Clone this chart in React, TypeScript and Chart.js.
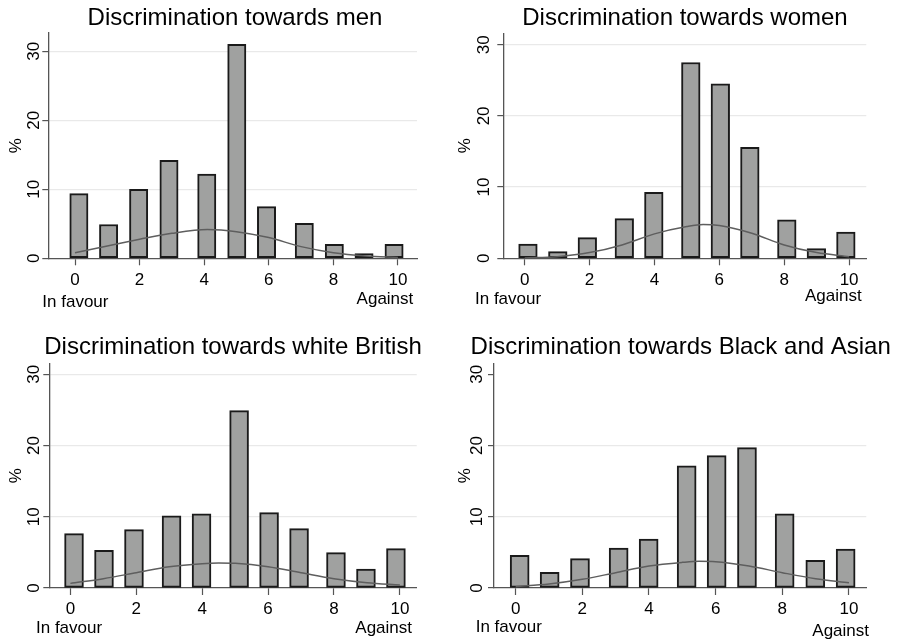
import React, { useEffect, useRef } from "react";
import { Chart, registerables } from "chart.js";

Chart.register(...registerables);

// ---------- data ----------
const scoreTicks = [0, 2, 4, 6, 8, 10];
const pctTicks = [0, 10, 20, 30];
const lowLabel = "In favour";
const highLabel = "Against";
const yTitle = "%";

const menTitle = "Discrimination towards men";
const menBinX = [0.12, 1.04, 1.97, 2.91, 4.08, 5.01, 5.93, 7.1, 8.03, 8.95, 9.88];
const menPct = [9.37, 4.9, 10.0, 14.2, 12.2, 31.0, 7.5, 5.05, 2.04, 0.68, 2.04];
const menCurveX = [0, 1, 2, 3, 4.1, 5, 6, 7, 8, 9, 10];
const menCurveY = [0.82, 1.79, 2.75, 3.62, 4.16, 3.86, 3.0, 1.69, 0.82, 0.34, 0.1];

const womenTitle = "Discrimination towards women";
const womenBinX = [0.1, 1.02, 1.93, 3.07, 3.98, 5.12, 6.03, 6.94, 8.08, 8.99, 9.9];
const womenPct = [2.0, 0.94, 2.9, 5.57, 9.27, 27.5, 24.5, 15.6, 5.4, 1.36, 3.7];
const womenCurveX = [0, 1, 2, 3, 4, 5, 5.5, 6, 7, 8, 9, 10];
const womenCurveY = [0.05, 0.23, 0.8, 1.88, 3.43, 4.46, 4.74, 4.6, 3.52, 1.88, 0.8, 0.23];

const whiteTitle = "Discrimination towards white British";
const whiteBinX = [0.11, 1.02, 1.93, 3.07, 3.98, 5.12, 6.03, 6.94, 8.06, 8.97, 9.88];
const whitePct = [7.63, 5.29, 8.19, 10.15, 10.43, 24.9, 10.58, 8.33, 4.96, 2.67, 5.52];
const whiteCurveX = [0, 1, 2, 3, 4, 4.5, 5, 6, 7, 8, 9, 10];
const whiteCurveY = [0.65, 1.31, 2.15, 3.0, 3.42, 3.5, 3.46, 3.0, 2.15, 1.31, 0.75, 0.42];

const baTitle = "Discrimination towards Black and Asian";
const baBinX = [0.12, 1.02, 1.93, 3.09, 3.99, 5.13, 6.03, 6.94, 8.07, 8.99, 9.9];
const baPct = [4.59, 2.2, 4.12, 5.62, 6.88, 17.17, 18.58, 19.7, 10.43, 3.88, 5.47];
const baCurveX = [0, 1, 2, 3, 4, 5, 5.5, 6, 7, 8, 9, 10];
const baCurveY = [0.19, 0.56, 1.22, 2.15, 3.09, 3.6, 3.75, 3.7, 3.09, 2.15, 1.31, 0.75];

// ---------- layout / style per panel ----------
const W = 450;
const H = 320;
const FONT = '"Liberation Sans", Arial, Helvetica, sans-serif';

const panels = [
  {
    title: menTitle, binX: menBinX, pct: menPct, cx: menCurveX, cy: menCurveY,
    pos: [0, 0], area: { left: 48.3, right: 417, top: 33, bottom: 258.3 },
    xMin: -0.827, xMax: 10.59, yMax: 32.65, barW: 18.3, topGrid: true,
    titleX: 235, titleY: 25, xLabY: 285, yLabX: 39.3, pctX: 20.7,
    favX: 42.3, favY: 306.5, agX: 413.3, agY: 304.3,
  },
  {
    title: womenTitle, binX: womenBinX, pct: womenPct, cx: womenCurveX, cy: womenCurveY,
    pos: [449, 0], area: { left: 54.3, right: 417.3, top: 33.3, bottom: 258.3 },
    xMin: -0.66, xMax: 10.53, yMax: 31.6, barW: 18.6, topGrid: true,
    titleX: 236, titleY: 25, xLabY: 285, yLabX: 40, pctX: 20.7,
    favX: 26, favY: 304.3, agX: 412.7, agY: 301,
  },
  {
    title: whiteTitle, binX: whiteBinX, pct: whitePct, cx: whiteCurveX, cy: whiteCurveY,
    pos: [0, 320], area: { left: 49.3, right: 416.7, top: 43.3, bottom: 268 },
    xMin: -0.64, xMax: 10.51, yMax: 31.55, barW: 18.9, topGrid: true,
    titleX: 233, titleY: 34.3, xLabY: 294.3, yLabX: 39.3, pctX: 20.7,
    favX: 36, favY: 313.3, agX: 412, agY: 313.3,
  },
  {
    title: baTitle, binX: baBinX, pct: baPct, cx: baCurveX, cy: baCurveY,
    pos: [449, 320], area: { left: 45, right: 417.3, top: 43.3, bottom: 268 },
    xMin: -0.65, xMax: 10.52, yMax: 31.55, barW: 19, topGrid: false,
    titleX: 231.7, titleY: 34.3, xLabY: 294.3, yLabX: 32.7, pctX: 20.7,
    favX: 26.7, favY: 312.3, agX: 420, agY: 315.7,
  },
];

const textPlugin = {
  id: "panelText",
  afterDraw(chart: any, _args: any, o: any) {
    const ctx = chart.ctx;
    const xs = chart.scales.x;
    const ys = chart.scales.y;
    ctx.save();
    ctx.fillStyle = "#000";
    ctx.textBaseline = "alphabetic";
    ctx.textAlign = "center";
    ctx.font = `24px ${FONT}`;
    ctx.fillText(o.title, o.titleX, o.titleY);

    ctx.font = `17px ${FONT}`;
    xs.ticks.forEach((t: any) => {
      ctx.fillText(String(t.value), xs.getPixelForValue(t.value), o.xLabY);
    });
    ys.ticks.forEach((t: any) => {
      ctx.save();
      ctx.translate(o.yLabX, ys.getPixelForValue(t.value));
      ctx.rotate(-Math.PI / 2);
      ctx.textAlign = "center";
      ctx.fillText(String(t.value), 0, 0);
      ctx.restore();
    });
    ctx.save();
    ctx.translate(o.pctX, (ys.top + ys.bottom) / 2);
    ctx.rotate(-Math.PI / 2);
    ctx.textAlign = "center";
    ctx.fillText(yTitle, 0, 0);
    ctx.restore();

    ctx.textAlign = "left";
    ctx.fillText(lowLabel, o.favX, o.favY);
    ctx.textAlign = "right";
    ctx.fillText(highLabel, o.agX, o.agY);
    ctx.restore();
  },
};

function Panel({ p }: { p: any }) {
  const ref = useRef<HTMLCanvasElement | null>(null);
  useEffect(() => {
    if (!ref.current) return;
    const axisColor = "#555555";
    const chart = new Chart(ref.current, {
      type: "bar",
      data: {
        datasets: [
          {
            type: "line",
            data: p.cx.map((x: number, i: number) => ({ x, y: p.cy[i] })),
            borderColor: "#5e5e5e",
            borderWidth: 1.5,
            pointRadius: 0,
            fill: false,
            cubicInterpolationMode: "monotone",
            order: 0,
          } as any,
          {
            type: "bar",
            data: p.binX.map((x: number, i: number) => ({ x, y: p.pct[i] })),
            backgroundColor: "#a0a1a0",
            borderColor: "#1a1a1a",
            borderWidth: 2,
            borderSkipped: false,
            barThickness: p.barW,
            order: 1,
          } as any,
        ],
      },
      options: {
        animation: false,
        responsive: false,
        maintainAspectRatio: false,
        events: [],
        layout: {
          padding: {
            left: p.area.left - 10,
            right: W - p.area.right,
            top: p.area.top,
            bottom: H - p.area.bottom - 10,
          },
        },
        plugins: {
          legend: { display: false },
          tooltip: { enabled: false },
          title: { display: false },
          panelText: p,
        } as any,
        scales: {
          x: {
            type: "linear",
            min: p.xMin,
            max: p.xMax,
            offset: false,
            afterFit(s: any) { s.height = 10; },
            afterBuildTicks(s: any) { s.ticks = scoreTicks.map((v) => ({ value: v })); },
            ticks: { display: false },
            grid: {
              offset: false,
              drawOnChartArea: false,
              drawTicks: true,
              tickLength: 7,
              tickColor: axisColor,
              tickWidth: 1.2,
            },
            border: { color: axisColor, width: 1.3 },
          },
          y: {
            type: "linear",
            min: 0,
            max: p.yMax,
            afterFit(s: any) { s.width = 10; },
            afterBuildTicks(s: any) { s.ticks = pctTicks.map((v) => ({ value: v })); },
            ticks: { display: false },
            grid: {
              color: (c: any) =>
                c.tick && (c.tick.value === 0 || (c.tick.value === 30 && !p.topGrid))
                  ? "rgba(0,0,0,0)"
                  : "#e9e9e9",
              lineWidth: 1.2,
              drawTicks: true,
              tickLength: 6,
              tickColor: axisColor,
              tickWidth: 1.2,
            },
            border: { color: axisColor, width: 1.3 },
          },
        } as any,
      },
      plugins: [textPlugin],
    });
    return () => chart.destroy();
  }, [p]);
  return (
    <canvas
      ref={ref}
      width={W}
      height={H}
      style={{ position: "absolute", left: p.pos[0], top: p.pos[1], width: W, height: H }}
    />
  );
}

export default function App() {
  return (
    <div
      style={{
        position: "absolute",
        left: 0,
        top: 0,
        width: 899,
        height: 640,
        background: "#ffffff",
        overflow: "hidden",
      }}
    >
      {panels.map((p, i) => (
        <Panel key={i} p={p} />
      ))}
    </div>
  );
}
